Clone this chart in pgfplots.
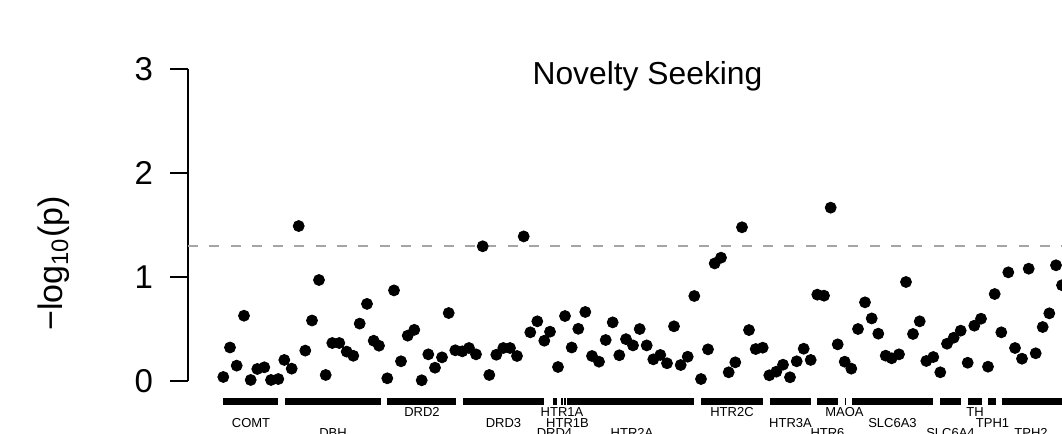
\documentclass[border=0pt]{standalone}
\usepackage{fontspec}
\setmainfont{Liberation Sans}
\usepackage{pgfplots}
\pgfplotsset{compat=1.18}
\definecolor{dashgray}{RGB}{165,165,165}
\pgfplotstableread{
x y
223.3 0.036
230 0.32
236.7 0.145
244 0.626
250.7 0.007
257.3 0.113
264.3 0.129
271 0.007
278.3 0.016
284.3 0.20
291.7 0.116
298.7 1.49
305.3 0.29
312 0.58
319 0.97
325.7 0.055
332.3 0.363
339.3 0.363
346.7 0.28
353.3 0.24
359.7 0.55
367 0.74
373.7 0.385
379 0.337
387.3 0.023
394 0.87
401 0.187
407.7 0.434
414.3 0.49
421.7 0.004
428.3 0.254
435 0.125
442 0.225
448.7 0.652
455.3 0.293
462.3 0.283
469 0.315
476 0.254
482.7 1.295
489.3 0.055
496.3 0.25
503.3 0.315
510 0.315
517 0.238
523.7 1.39
530.3 0.466
537.3 0.572
544.3 0.385
550 0.472
558 0.132
565 0.623
571.7 0.32
578.3 0.50
585.3 0.662
592 0.238
599 0.183
605.7 0.392
612.7 0.562
619.3 0.245
626 0.40
633 0.34
639.7 0.498
646.7 0.34
653.3 0.206
660.3 0.248
667 0.168
674 0.524
680.7 0.151
687.7 0.231
694.3 0.816
701 0.016
708 0.302
714.7 1.13
721 1.185
728.7 0.081
735.3 0.177
742 1.478
749 0.488
755.7 0.305
762.7 0.318
769.3 0.052
776.3 0.087
783 0.154
790 0.033
796.7 0.187
803.7 0.308
810.7 0.20
817.3 0.829
824 0.819
830.7 1.667
837.7 0.35
844.7 0.183
851.3 0.116
858 0.498
865 0.755
871.7 0.60
878.3 0.453
885.7 0.241
891.7 0.216
899 0.254
906 0.951
913 0.45
919.7 0.572
926.3 0.19
933.3 0.228
940.3 0.081
947 0.356
953.7 0.414
960.7 0.482
967.7 0.173
974.3 0.53
981 0.597
988 0.135
994.7 0.835
1001.3 0.466
1008.3 1.044
1015 0.315
1022 0.212
1028.7 1.079
1035.7 0.264
1042.7 0.517
1049.3 0.649
1056 1.112
1062 0.92
}\snps
\begin{document}
\begin{tikzpicture}
\useasboundingbox (0,0) rectangle (531pt,217pt);
\clip (0,0) rectangle (531pt,217pt);
\begin{axis}[
  at={(94pt,26.65pt)}, anchor=south west,
  scale only axis, width=437pt, height=155.7pt,
  xmin=188, xmax=1062, ymin=0, ymax=3,
  clip=false,
  axis x line=none, axis y line*=left,
  axis line style={line width=0.9pt},
  ytick={0,1,2,3},
  tick align=outside, major tick length=9pt,
  every tick/.style={line width=0.9pt, black},
  yticklabel style={font=\fontsize{16.5}{19}\selectfont, xshift=-5pt},
  /pgf/number format/assume math mode=true,
]
\addplot[dashgray, line width=1pt, dash pattern=on 5pt off 5.65pt] coordinates {(188,1.3) (1062,1.3)};
\addplot[only marks, mark=*, mark size=2.75pt, black] table {\snps};
\addplot[black, line width=3.65pt, line cap=butt, unbounded coords=jump, forget plot] coordinates {
(223,-0.198) (278,-0.198) (279,nan)
(285,-0.198) (381,-0.198) (382,nan)
(387,-0.198) (456,-0.198) (457,nan)
(463,-0.198) (544,-0.198) (545,nan)
(553,-0.198) (557,-0.198) (558,nan)
(561,-0.198) (563,-0.198) (563.5,nan)
(564,-0.198) (566.3,-0.198) (566.6,nan)
(567.3,-0.198) (694,-0.198) (695,nan)
(701,-0.198) (763,-0.198) (764,nan)
(770,-0.198) (811,-0.198) (812,nan)
(817,-0.198) (838,-0.198) (839,nan)
(844.6,-0.198) (845.6,-0.198) (846,nan)
(852,-0.198) (933,-0.198) (934,nan)
(940,-0.198) (961,-0.198) (962,nan)
(968,-0.198) (982,-0.198) (983,nan)
(988,-0.198) (996,-0.198) (997,nan)
(1002,-0.198) (1062,-0.198)
};
\begin{scope}[every node/.style={font=\fontsize{6.5}{7}\selectfont, anchor=base, inner sep=0pt}]
\node at (axis cs:251,-0.449) {COMT};
\node at (axis cs:333,-0.551) {DBH};
\node at (axis cs:422,-0.347) {DRD2};
\node at (axis cs:503.5,-0.449) {DRD3};
\node at (axis cs:554.5,-0.551) {DRD4};
\node at (axis cs:562,-0.347) {HTR1A};
\node at (axis cs:567.5,-0.449) {HTR1B};
\node at (axis cs:632,-0.551) {HTR2A};
\node at (axis cs:732,-0.347) {HTR2C};
\node at (axis cs:790.5,-0.449) {HTR3A};
\node at (axis cs:827.5,-0.551) {HTR6};
\node at (axis cs:844.5,-0.347) {MAOA};
\node at (axis cs:892.5,-0.449) {SLC6A3};
\node at (axis cs:950.5,-0.551) {SLC6A4};
\node at (axis cs:975,-0.347) {TH};
\node at (axis cs:992.5,-0.449) {TPH1};
\node at (axis cs:1031,-0.551) {TPH2};
\end{scope}
\node[font=\fontsize{15.9}{19}\selectfont, anchor=base, inner sep=0pt] at (axis cs:647.5,2.849) {Novelty Seeking};
\node[font=\fontsize{17}{20}\selectfont, anchor=base, inner sep=0pt, rotate=90] at (axis cs:63,1.129) {\char"2212log\textsubscript{10}(p)};
\end{axis}
\end{tikzpicture}
\end{document}
